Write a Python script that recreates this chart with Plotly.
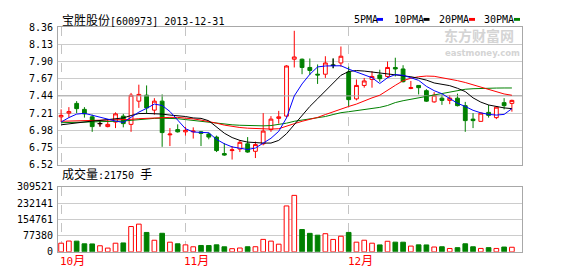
import plotly.graph_objects as go

# ---------------- data ----------------
idx = list(range(59))
opens = [7.16, 7.21, 7.34, 7.26, 7.16, 7.07, 7.03, 7.09, 7.17, 7.06,
         7.37, 7.45, 7.25, 7.37, 6.92, 6.99, 6.96, 6.96, 6.96, 6.93,
         6.89, 6.67, 6.71, 6.73, 6.80, 6.70, 6.80, 6.99, 7.14, 7.17,
         7.93, 7.93, 7.82, 7.73, 7.73, 7.85, 7.88, 7.76, 7.40, 7.58,
         7.66, 7.72, 7.70, 7.82, 7.80, 7.54, 7.58, 7.51, 7.36, 7.41,
         7.38, 7.41, 7.31, 7.13, 7.10, 7.22, 7.15, 7.35, 7.34]
highs = [7.26, 7.29, 7.37, 7.29, 7.19, 7.11, 7.13, 7.22, 7.20, 7.48,
         7.59, 7.58, 7.41, 7.46, 7.01, 7.06, 7.03, 7.02, 6.97, 6.95,
         6.91, 6.81, 6.77, 6.85, 6.89, 6.83, 7.21, 7.17, 7.24, 7.85,
         8.31, 7.94, 7.94, 7.86, 7.97, 7.94, 8.10, 7.83, 7.66, 7.68,
         7.77, 7.79, 7.90, 7.95, 7.85, 7.64, 7.58, 7.53, 7.49, 7.46,
         7.45, 7.47, 7.36, 7.21, 7.22, 7.32, 7.30, 7.41, 7.39]
lows = [7.09, 7.15, 7.21, 7.15, 6.96, 7.03, 7.02, 7.01, 7.02, 6.96,
        7.28, 7.20, 7.19, 6.76, 6.77, 6.95, 6.91, 6.87, 6.77, 6.86,
        6.69, 6.64, 6.59, 6.69, 6.68, 6.61, 6.78, 6.96, 7.07, 7.15,
        7.82, 7.73, 7.72, 7.60, 7.68, 7.81, 7.83, 7.30, 7.38, 7.55,
        7.55, 7.63, 7.68, 7.70, 7.62, 7.53, 7.46, 7.36, 7.35, 7.32,
        7.33, 7.30, 6.96, 7.01, 7.10, 7.15, 7.13, 7.26, 7.23]
closes = [7.18, 7.23, 7.27, 7.20, 7.03, 7.07, 7.06, 7.20, 7.07, 7.45,
          7.46, 7.28, 7.37, 6.95, 6.93, 6.96, 6.98, 6.97, 6.94, 6.89,
          6.71, 6.65, 6.72, 6.82, 6.69, 6.79, 6.97, 7.13, 7.16, 7.84,
          7.96, 7.82, 7.78, 7.72, 7.88, 7.85, 7.97, 7.39, 7.58, 7.64,
          7.70, 7.67, 7.82, 7.80, 7.63, 7.55, 7.55, 7.37, 7.45, 7.38,
          7.41, 7.31, 7.11, 7.11, 7.21, 7.18, 7.29, 7.31, 7.38]
volumes = [41200, 51300, 50800, 38100, 37600, 28900, 17800, 41000, 42300, 120400,
           131800, 92200, 55100, 88300, 45800, 38200, 33100, 24000, 30200, 29800,
           33300, 23900, 15000, 18200, 24100, 24300, 59200, 51000, 36400, 218300,
           268700, 106100, 87900, 79100, 86300, 59000, 74200, 92300, 45900, 55200,
           41100, 33000, 50200, 46100, 45800, 27300, 33100, 32800, 22900, 24100,
           15900, 19800, 38300, 24000, 16200, 19900, 16100, 22800, 21750]
ma5 = [7.091, 7.150, 7.197, 7.207, 7.182, 7.155, 7.123, 7.104, 7.086, 7.159,
       7.223, 7.274, 7.331, 7.312, 7.232, 7.117, 7.002, 6.958, 6.951, 6.948,
       6.859, 6.801, 6.759, 6.737, 6.724, 6.744, 6.810, 6.874, 6.967, 7.146,
       7.440, 7.600, 7.728, 7.827, 7.840, 7.840, 7.843, 7.798, 7.759, 7.721,
       7.683, 7.606, 7.683, 7.725, 7.715, 7.683, 7.648, 7.568, 7.510, 7.469,
       7.406, 7.342, 7.299, 7.248, 7.214, 7.193, 7.184, 7.193, 7.270]
ma10 = [7.054, 7.069, 7.082, 7.095, 7.104, 7.112, 7.123, 7.136, 7.146, 7.178,
        7.204, 7.206, 7.204, 7.197, 7.184, 7.178, 7.165, 7.146, 7.140, 7.108,
        7.020, 6.942, 6.884, 6.846, 6.823, 6.814, 6.810, 6.810, 6.846, 6.935,
        7.057, 7.184, 7.299, 7.402, 7.504, 7.613, 7.715, 7.766, 7.779, 7.772,
        7.759, 7.747, 7.738, 7.728, 7.715, 7.696, 7.676, 7.651, 7.613, 7.593,
        7.577, 7.542, 7.498, 7.414, 7.357, 7.319, 7.299, 7.280, 7.270]
ma20 = [7.101, 7.104, 7.105, 7.108, 7.108, 7.110, 7.114, 7.117, 7.121, 7.127,
        7.136, 7.142, 7.146, 7.150, 7.153, 7.153, 7.146, 7.133, 7.117, 7.099,
        7.076, 7.050, 7.031, 7.018, 7.009, 7.002, 6.997, 6.997, 7.002, 7.031,
        7.069, 7.101, 7.127, 7.153, 7.191, 7.229, 7.261, 7.299, 7.331, 7.376,
        7.414, 7.449, 7.510, 7.581, 7.644, 7.676, 7.696, 7.705, 7.702, 7.683,
        7.670, 7.644, 7.619, 7.587, 7.555, 7.529, 7.491, 7.466, 7.449]
ma30 = [7.082, 7.085, 7.086, 7.086, 7.086, 7.089, 7.092, 7.098, 7.104, 7.114,
        7.124, 7.133, 7.140, 7.142, 7.142, 7.136, 7.124, 7.112, 7.099, 7.086,
        7.076, 7.063, 7.054, 7.048, 7.044, 7.041, 7.040, 7.044, 7.057, 7.076,
        7.101, 7.117, 7.124, 7.146, 7.165, 7.191, 7.216, 7.229, 7.242, 7.255,
        7.265, 7.287, 7.312, 7.351, 7.376, 7.395, 7.414, 7.440, 7.459, 7.474,
        7.491, 7.510, 7.529, 7.536, 7.542, 7.542, 7.545, 7.546, 7.546]
month_ticks = [0, 16, 37]
month_labels = ["10月", "11月", "12月"]
price_ticks = [6.52, 6.75, 6.98, 7.21, 7.44, 7.67, 7.90, 8.13, 8.36]
mid_price = 7.44
vol_ticks = [0, 77380, 154761, 232141, 309521]
ma_names = ["5PMA", "10PMA", "20PMA", "30PMA"]
ma_colors = ["#0000ff", "#000000", "#ff0000", "#008000"]
title_name = "宝胜股份"
title_code = "[600973] 2013-12-31"

# ---------------- layout helpers ----------------
W, H = 578, 276
LX, RX = 58, 522
def px(x):
    return (x - LX) / (RX - LX)
def py(y):
    return (H - y) / H

RED = "#ff0000"
GREEN = "#008000"
GRID = "#cccccc"
BORDER = "#a8a8a8"
MONO = "DejaVu Sans Mono, Noto Sans CJK SC"

fig = go.Figure()

# darker middle grid line of the price panel
fig.add_trace(go.Scatter(x=[-0.4, 59.3], y=[mid_price, mid_price], mode="lines",
                         line=dict(color="#ababab", width=1), xaxis="x", yaxis="y",
                         hoverinfo="skip"))

# candlesticks
fig.add_trace(go.Candlestick(
    x=idx, open=opens, high=highs, low=lows, close=closes,
    increasing=dict(line=dict(color=RED, width=1), fillcolor="#ffffff"),
    decreasing=dict(line=dict(color=GREEN, width=1), fillcolor=GREEN),
    whiskerwidth=0, xaxis="x", yaxis="y", hoverinfo="skip"))

# doji candles drawn in black
dx, dy = [], []
for i in idx:
    if opens[i] == closes[i]:
        dx += [i - 0.32, i + 0.32, None, i, i, None]
        dy += [opens[i], opens[i], None, lows[i], highs[i], None]
fig.add_trace(go.Scatter(x=dx, y=dy, mode="lines", line=dict(color="#000000", width=1),
                         xaxis="x", yaxis="y", hoverinfo="skip"))

# moving averages
for vals, col in zip([ma30, ma20, ma10, ma5], ma_colors[::-1]):
    fig.add_trace(go.Scatter(x=idx, y=vals, mode="lines", line=dict(color=col, width=1),
                             xaxis="x", yaxis="y", hoverinfo="skip"))

# volume
up = [closes[i] >= opens[i] for i in idx]
fig.add_trace(go.Bar(
    x=idx, y=volumes, width=0.6,
    marker=dict(color=["#ffffff" if u else GREEN for u in up],
                line=dict(color=[RED if u else GREEN for u in up], width=1)),
    xaxis="x2", yaxis="y2", hoverinfo="skip"))

tickfont = dict(family=MONO, size=10, color="#000000")
common_x = dict(range=[-0.4, 59.3], tickvals=month_ticks, showticklabels=False,
                showgrid=True, gridcolor="#c4c4c4", griddash="dash", gridwidth=1,
                zeroline=False, showline=True, mirror=True, linecolor=BORDER, linewidth=1,
                ticks="")
common_y = dict(showgrid=True, gridcolor=GRID, gridwidth=1, zeroline=False,
                showline=True, mirror=True, linecolor=BORDER, linewidth=1,
                ticks="", tickfont=tickfont, ticklabelstandoff=2)

fig.update_layout(
    width=W, height=H, margin=dict(l=LX, r=W - RX, t=0, b=0),
    paper_bgcolor="white", plot_bgcolor="white", showlegend=False,
    xaxis=dict(common_x, domain=[0, 1], anchor="y", rangeslider=dict(visible=False)),
    yaxis=dict(common_y, domain=[py(166), py(22)], range=[6.52, 8.36], anchor="x",
               tickvals=price_ticks, ticktext=[f"{v:.2f}" for v in price_ticks]),
    xaxis2=dict(common_x, domain=[0, 1], anchor="y2", matches="x"),
    yaxis2=dict(common_y, domain=[py(257), py(189)], range=[0, 309521], anchor="x2",
                tickvals=vol_ticks, ticktext=[str(v) for v in vol_ticks]),
)

ann = []
# title
ann.append(dict(xref="paper", yref="paper", x=px(60), y=py(15), xanchor="left", yanchor="middle",
                text=f'<span style="font-size:12px">{title_name}</span>{title_code}',
                showarrow=False, font=dict(family=MONO, size=10, color="#000000")))
# legend
leg_x = [351.7, 391.7, 436.7, 481.7]
sq_x = [377, 423.5, 469, 514]
shapes = []
for name, col, lx, sx in zip(ma_names, ma_colors, leg_x, sq_x):
    ann.append(dict(xref="paper", yref="paper", x=px(lx), y=py(14.5), xanchor="left", yanchor="middle",
                    text=name, showarrow=False, font=dict(family=MONO, size=10, color="#000000")))
    shapes.append(dict(type="rect", xref="paper", yref="paper", x0=px(sx), x1=px(sx + 6),
                       y0=py(15.5), y1=py(12.5), fillcolor=col, line=dict(width=0)))
# watermark
ann.append(dict(xref="paper", yref="paper", x=px(443), y=py(42), xanchor="left", yanchor="bottom",
                text="<b>东方财富网</b>", showarrow=False, borderpad=0,
                font=dict(family="Noto Sans CJK SC", size=14, color="#d4d4d4")))
ann.append(dict(xref="paper", yref="paper", x=px(444), y=py(42.5), xanchor="left", yanchor="top",
                text="<b>eastmoney.com</b>", showarrow=False, borderpad=0,
                font=dict(family="DejaVu Sans", size=8.5, color="#d4d4d4")))
# volume label
ann.append(dict(xref="paper", yref="paper", x=px(60), y=py(176.5), xanchor="left", yanchor="middle",
                text='<span style="font-size:12px">成交量</span>:21750 <span style="font-size:12px">手</span>',
                showarrow=False, font=dict(family=MONO, size=10, color="#000000")))
# month labels
for t, lab in zip(month_ticks, month_labels):
    ann.append(dict(xref="x2", yref="paper", x=t, y=py(266.5), xanchor="left", yanchor="middle",
                    xshift=-3, text=lab[:-1] + f'<span style="font-size:12px">{lab[-1]}</span>',
                    showarrow=False, font=dict(family=MONO, size=11, color=RED)))

fig.update_layout(annotations=ann, shapes=shapes)
fig.write_html("out.html")
